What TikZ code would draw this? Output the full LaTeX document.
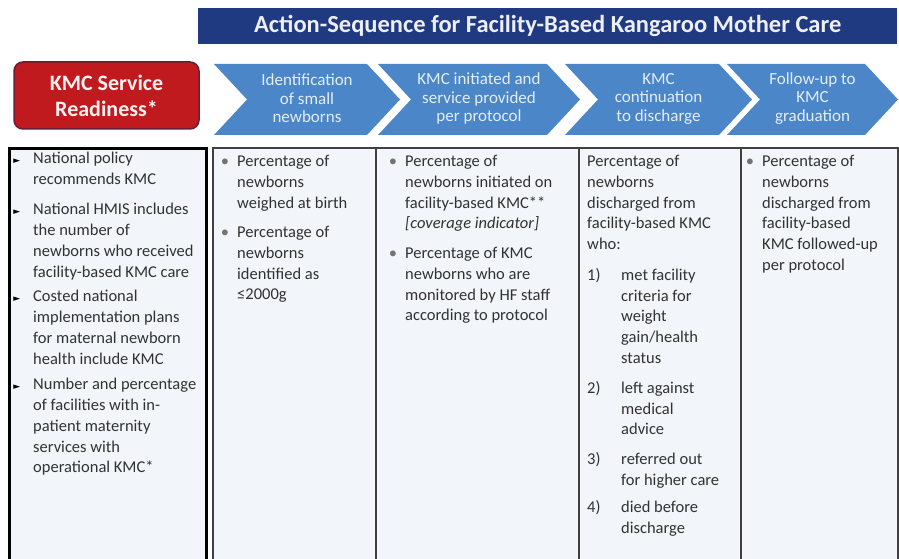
\documentclass[tikz,border=0pt]{standalone}
\usepackage{fontspec}
\setmainfont{Carlito}
\newfontfamily\symfont{DejaVu Sans}
\usetikzlibrary{positioning}

\definecolor{bannerblue}{RGB}{32,58,130}
\definecolor{chevblue}{RGB}{74,134,200}
\definecolor{readyred}{RGB}{192,26,30}
\definecolor{readyedge}{RGB}{105,30,50}
\definecolor{cellfill}{RGB}{242,245,249}
\definecolor{celltext}{RGB}{50,50,50}

% list marks, hung left of the first line
\newcommand{\kbul}{\llap{\textcolor{black!55}{•}\hspace{8pt}}}
\newcommand{\kmark}{\llap{\textcolor{black}{\symfont\fontsize{9}{9}\selectfont ►}\hspace{13pt}}}
\newcommand{\knum}[1]{\llap{\makebox[34pt][l]{#1)}}}

\begin{document}
\begin{tikzpicture}[x=1pt, y=-1pt,
    banner/.style={rectangle, fill=bannerblue, anchor=north west, minimum width=699, minimum height=36, inner sep=0, text=white!92!bannerblue, font=\fontsize{24.5}{28}\selectfont\bfseries},
    readybox/.style={rectangle, rounded corners=9pt, draw=readyedge, line width=1.5pt, fill=readyred, minimum width=185, minimum height=67, align=center, text=white!94!readyred, font=\fontsize{22}{26}\selectfont\bfseries},
    chevron/.style={fill=chevblue},
    steptext/.style={align=center, inner sep=0, text=white!85!chevblue, font=\fontsize{17}{18.5}\selectfont},
    cell/.style={rectangle, draw=black!75, line width=2pt, fill=cellfill, anchor=north west, minimum height=430},
    item/.style={anchor=north west, align=left, inner sep=0, text=celltext, font=\fontsize{16.5}{20.8}\selectfont}
]
\useasboundingbox (0,0) rectangle (899,559);
\clip (0,0) rectangle (899,559);

% header
\node[banner] (title) at (198,8) {Action-Sequence for Facility-Based Kangaroo Mother Care};
\node[readybox] (ready) at (106.5,95.5) {KMC Service\\Readiness*};

% action sequence
\foreach \i/\l/\p/\txt in {1/214/400/{Identification\\of small\\newborns},
                            2/378/580/{KMC initiated and\\service provided\\per protocol},
                            3/565/752/{KMC\\continuation\\to discharge},
                            4/727/898/{Follow-up to\\KMC\\graduation}}{
  \fill[chevron] (\l,64) -- (\p-33,64) -- (\p,99.5) -- (\p-33,135) -- (\l,135) -- (\l+33,99.5) -- cycle;
  \node[steptext] (step\i) at ({(\l+\p)/2},98.5) {\txt};
}

% columns
\node[cell, draw=black, line width=2.5pt, minimum width=197] (readycol) at (8,147) {};
\node[cell, minimum width=163] (col1) at (212,147) {};
\node[cell, minimum width=203] (col2) at (375,147) {};
\node[cell, minimum width=162] (col3) at (578,147) {};
\node[cell, minimum width=157] (col4) at (740,147) {};

% readiness indicators
\node[item] (r1) at (33,152) {\kmark National policy\\recommends KMC};
\node[item] (r2) at (33,203) {\kmark National HMIS includes\\the number of\\newborns who received\\facility-based KMC care};
\node[item] (r3) at (33,290) {\kmark Costed national\\implementation plans\\for maternal newborn\\health include KMC};
\node[item] (r4) at (33,378) {\kmark Number and percentage\\of facilities with in-\\patient maternity\\services with\\operational KMC*};

% identification
\node[item] (a1) at (237,155) {\kbul Percentage of\\newborns\\weighed at birth};
\node[item] (a2) at (237,226) {\kbul Percentage of\\newborns\\identified as\\≤2000g};

% initiation
\node[item] (b1) at (405,155) {\kbul Percentage of\\newborns initiated on\\facility-based KMC**\\\textit{[coverage indicator]}};
\node[item] (b2) at (405,247) {\kbul Percentage of KMC\\newborns who are\\monitored by HF staff\\according to protocol};

% continuation
\node[item] (c0) at (587,155) {Percentage of\\newborns\\discharged from\\facility-based KMC\\who:};
\node[item] (c1) at (621,268) {\knum{1}met facility\\criteria for\\weight\\gain/health\\status};
\node[item] (c2) at (621,381) {\knum{2}left against\\medical\\advice};
\node[item] (c3) at (621,452) {\knum{3}referred out\\for higher care};
\node[item] (c4) at (621,500) {\knum{4}died before\\discharge};

% follow-up
\node[item] (d1) at (762,155) {\kbul Percentage of\\newborns\\discharged from\\facility-based\\KMC followed-up\\per protocol};
\end{tikzpicture}
\end{document}
